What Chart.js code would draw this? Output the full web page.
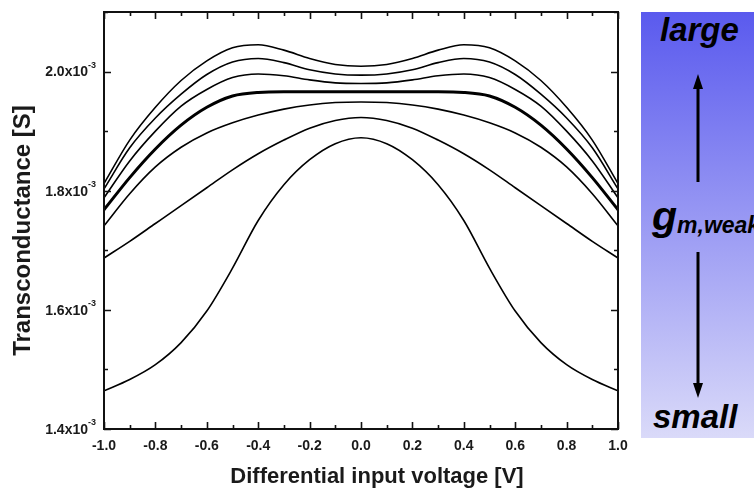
<!DOCTYPE html>
<html>
<head>
<meta charset="utf-8">
<script src="https://cdn.jsdelivr.net/npm/chart.js@4.4.1/dist/chart.umd.min.js"></script>
<style>
  html, body { margin: 0; padding: 0; background: #fff; }
  #wrap { position: relative; width: 754px; height: 491px; overflow: hidden; }
  #grafico { position: absolute; left: 0; top: 0; }
  #painel {
    position: absolute; left: 641px; top: 12px; width: 113px; height: 426px;
    background: linear-gradient(to bottom, #5a5aee, #dadaf9);
    font-family: Arial, 'Liberation Sans', sans-serif; font-weight: bold; font-style: italic;
    color: #000; overflow: hidden;
  }
  #painel .txt { position: absolute; white-space: nowrap; line-height: 1; }
  #painel svg { position: absolute; left: 0; top: 0; }
</style>
</head>
<body>
<div id="wrap">
  <canvas id="grafico" width="640" height="491"></canvas>
  <div id="painel">
    <svg width="113" height="426">
      <line x1="57" y1="170" x2="57" y2="74" stroke="#000" stroke-width="3"/>
      <polygon points="57,62 52,77 62,77" fill="#000"/>
      <line x1="57" y1="240" x2="57" y2="372" stroke="#000" stroke-width="3"/>
      <polygon points="57,386 52,371 62,371" fill="#000"/>
    </svg>
    <div class="txt" style="left:19px; top:1px; font-size:33px;">large</div>
    <div class="txt" style="left:12px; top:388px; font-size:33px;">small</div>
    <div class="txt" style="left:11px; top:184px; font-size:41px;">g<span style="font-size:23px; position:relative; top:3px;">m,weak</span></div>
  </div>
</div>
<script>
// tensão diferencial de entrada [V]
const tensoes = [-1.0, -0.9, -0.8, -0.7, -0.6, -0.5, -0.4, -0.3, -0.2, -0.1, 0.0,
                 0.1, 0.2, 0.3, 0.4, 0.5, 0.6, 0.7, 0.8, 0.9, 1.0];

// transcondutancia em unidades de 1e-3 S, de cima (g_m,weak grande) para baixo
const gm1 = [1.812, 1.885, 1.940, 1.985, 2.018, 2.040, 2.045, 2.036, 2.022, 2.012, 2.009,
             2.012, 2.022, 2.036, 2.045, 2.040, 2.018, 1.985, 1.940, 1.885, 1.812];
const gm2 = [1.803, 1.872, 1.922, 1.962, 1.995, 2.016, 2.022, 2.015, 2.003, 1.996, 1.994,
             1.996, 2.003, 2.015, 2.022, 2.016, 1.995, 1.962, 1.922, 1.872, 1.803];
const gm3 = [1.788, 1.850, 1.900, 1.942, 1.970, 1.990, 1.996, 1.993, 1.986, 1.981, 1.980,
             1.981, 1.986, 1.993, 1.996, 1.990, 1.970, 1.942, 1.900, 1.850, 1.788];
const gm4 = [1.768, 1.822, 1.870, 1.910, 1.940, 1.959, 1.965, 1.966, 1.966, 1.966, 1.966,
             1.966, 1.966, 1.966, 1.965, 1.959, 1.940, 1.910, 1.870, 1.822, 1.768];
const gm5 = [1.741, 1.795, 1.840, 1.873, 1.897, 1.914, 1.927, 1.937, 1.944, 1.948, 1.949,
             1.948, 1.944, 1.937, 1.927, 1.914, 1.897, 1.873, 1.840, 1.795, 1.741];
const gm6 = [1.687, 1.715, 1.745, 1.775, 1.805, 1.835, 1.862, 1.885, 1.905, 1.918, 1.923,
             1.918, 1.905, 1.885, 1.862, 1.835, 1.805, 1.775, 1.745, 1.715, 1.687];
const gm7 = [1.464, 1.483, 1.508, 1.545, 1.598, 1.670, 1.750, 1.810, 1.852, 1.879, 1.889,
             1.879, 1.852, 1.810, 1.750, 1.670, 1.598, 1.545, 1.508, 1.483, 1.464];

const series = [gm1, gm2, gm3, gm4, gm5, gm6, gm7];
const espessuras = [1.6, 1.6, 1.6, 3, 1.6, 1.6, 1.6];

const fonte = "Arial, 'Liberation Sans', sans-serif";
Chart.defaults.font.family = fonte;
Chart.defaults.color = '#1a1a1a';

function fmt(v) {
    if (Math.abs(v) < 1e-9) return '0.0';
    return v.toFixed(1);
}

// moldura, marcas internas, rotulos do eixo y com expoente e titulo do eixo x
const moldura = {
    id: 'moldura',
    afterDatasetsDraw(chart) {
        const { ctx, chartArea: a, scales: { x, y } } = chart;
        ctx.save();
        ctx.strokeStyle = '#111';
        ctx.lineWidth = 1.6;
        ctx.beginPath();
        x.ticks.forEach((t, i) => {
            const px = Math.round(x.getPixelForValue(t.value)) + 0.5;
            const len = i % 2 === 0 ? 7 : 4;
            ctx.moveTo(px, a.bottom); ctx.lineTo(px, a.bottom - len);
            ctx.moveTo(px, a.top); ctx.lineTo(px, a.top + len);
        });
        y.ticks.forEach((t, i) => {
            const py = Math.round(y.getPixelForValue(t.value)) + 0.5;
            const len = i % 2 === 0 ? 7 : 4;
            ctx.moveTo(a.left, py); ctx.lineTo(a.left + len, py);
            ctx.moveTo(a.right, py); ctx.lineTo(a.right - len, py);
        });
        ctx.stroke();
        ctx.lineWidth = 2;
        ctx.strokeRect(a.left, a.top, a.right - a.left, a.bottom - a.top);

        ctx.fillStyle = '#1a1a1a';
        y.ticks.forEach((t, i) => {
            if (i % 2 !== 0) return;
            const py = y.getPixelForValue(t.value);
            ctx.font = 'bold 14px ' + fonte;
            ctx.textAlign = 'right';
            ctx.textBaseline = 'middle';
            ctx.fillText(t.value.toFixed(1) + 'x10', 88, py + 1);
            ctx.font = 'bold 9px ' + fonte;
            ctx.textAlign = 'left';
            ctx.fillText('-3', 88, py - 6);
        });

        // titulo do eixo x, um pouco deslocado para a direita como no original
        ctx.font = 'bold 22px ' + fonte;
        ctx.textAlign = 'center';
        ctx.textBaseline = 'middle';
        ctx.fillText('Differential input voltage [V]', (a.left + a.right) / 2 + 16, 477);

        // titulo do eixo y
        ctx.translate(23, (a.top + a.bottom) / 2 + 10);
        ctx.rotate(-Math.PI / 2);
        ctx.font = 'bold 24px ' + fonte;
        ctx.fillText('Transconductance [S]', 0, 0);
        ctx.restore();
    }
};

const ctx = document.getElementById('grafico').getContext('2d');
const grafico = new Chart(ctx, {
    type: 'line',
    data: {
        datasets: series.map((s, k) => ({
            data: s.map((v, i) => ({ x: tensoes[i], y: v })),
            borderColor: '#000',
            borderWidth: espessuras[k],
            pointRadius: 0,
            cubicInterpolationMode: 'monotone',
            fill: false
        }))
    },
    options: {
        responsive: false,
        animation: false,
        layout: { padding: { top: 12, right: 22, left: 0, bottom: 0 } },
        plugins: { legend: { display: false }, tooltip: { enabled: false } },
        scales: {
            x: {
                type: 'linear',
                min: -1, max: 1,
                grid: { display: false, drawTicks: false },
                border: { display: false },
                ticks: {
                    stepSize: 0.1, autoSkip: false, maxRotation: 0, padding: 9,
                    font: { size: 14, weight: 'bold' },
                    callback: (v, i) => i % 2 === 0 ? fmt(v) : ''
                },
                afterFit(s) { s.height = 62; }
            },
            y: {
                min: 1.4, max: 2.1,
                grid: { display: false, drawTicks: false },
                border: { display: false },
                ticks: { stepSize: 0.1, display: false, autoSkip: false },
                afterFit(s) { s.width = 104; }
            }
        }
    },
    plugins: [moldura]
});
</script>
</body>
</html>
